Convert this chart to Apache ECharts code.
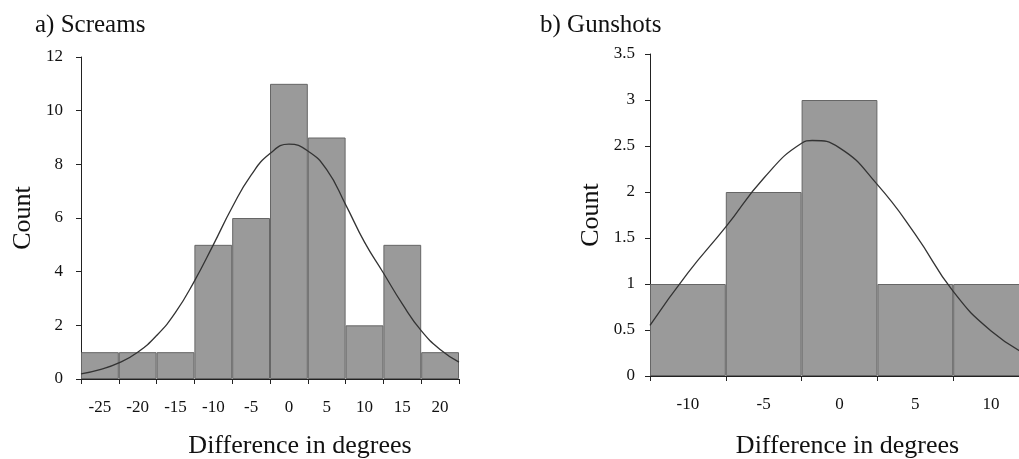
<!DOCTYPE html>
<html>
<head>
<meta charset="utf-8">
<script src="https://cdn.jsdelivr.net/npm/echarts@6/dist/echarts.min.js"></script>
<style>
  html, body { margin: 0; padding: 0; background: #fff; }
  #main { width: 1019px; height: 459px; }
</style>
</head>
<body>
<div id="main"></div>
<script>
// a) Screams - histogram bins (centres) and counts
var screamBins = ['-25', '-20', '-15', '-10', '-5', '0', '5', '10', '15', '20'];
var screamCounts = [1, 1, 1, 5, 6, 11, 9, 2, 5, 1];
// fitted curve
var screamCurveX = [-27.5, -25, -22.5, -20, -17.5, -15, -12.5, -10, -7.5, -5, -2.5, 0, 2.5, 5, 7.5, 10, 12.5, 15, 17.5, 20, 22.5];
var screamCurveY = [0.19, 0.35, 0.6, 1.0, 1.62, 2.48, 3.65, 5.0, 6.4, 7.6, 8.4, 8.75, 8.5, 7.8, 6.5, 5.1, 3.95, 2.8, 1.8, 1.1, 0.63];

// b) Gunshots
var gunBins = ['-10', '-5', '0', '5', '10'];
var gunCounts = [1, 2, 3, 1, 1];
var gunCurveX = [-12.5, -10, -7.5, -5, -2.5, -1.8, 0, 2.5, 5, 7.5, 10, 12.5];
var gunCurveY = [0.55, 1.12, 1.62, 2.15, 2.53, 2.56, 2.48, 2.08, 1.54, 0.92, 0.49, 0.22];

function pairs(xs, ys) {
  var out = [];
  for (var i = 0; i < xs.length; i++) out.push([xs[i], ys[i]]);
  return out;
}

var FONT = '"Liberation Serif", "Times New Roman", serif';
var myChart = echarts.init(document.getElementById('main'));

var axisLine = { show: true, onZero: false, lineStyle: { color: '#222', width: 1 } };
var tickStyle = { show: true, length: 5, lineStyle: { color: '#222', width: 1 } };

var option = {
  animation: false,
  backgroundColor: '#fff',
  title: [
    { text: 'a) Screams', left: 30, top: 8, textStyle: { fontFamily: FONT, fontSize: 25, fontWeight: 'normal', color: '#111' } },
    { text: 'b) Gunshots', left: 535, top: 8, textStyle: { fontFamily: FONT, fontSize: 25, fontWeight: 'normal', color: '#111' } }
  ],
  grid: [
    { left: 81, top: 57, width: 378, height: 322, outerBoundsMode: 'none', containLabel: false },
    { left: 650, top: 54, width: 379, height: 322, outerBoundsMode: 'none', containLabel: false }
  ],
  xAxis: [
    { //直方图分组
      type: 'category', gridIndex: 0, data: screamBins, boundaryGap: true,
      axisLine: axisLine, axisTick: tickStyle,
      axisLabel: { fontFamily: FONT, fontSize: 17, color: '#111', margin: 20, interval: 0 },
      name: 'Difference in degrees', nameLocation: 'middle', nameGap: 54,
      nameTextStyle: { fontFamily: FONT, fontSize: 26, color: '#111', padding: [0, 0, 0, 60] }
    },
    { //曲线用的数值轴
      type: 'value', gridIndex: 0, min: -27.5, max: 22.5, show: false
    },
    {
      type: 'category', gridIndex: 1, data: gunBins, boundaryGap: true,
      axisLine: axisLine, axisTick: tickStyle,
      axisLabel: { fontFamily: FONT, fontSize: 17, color: '#111', margin: 20, interval: 0 },
      name: 'Difference in degrees', nameLocation: 'middle', nameGap: 57,
      nameTextStyle: { fontFamily: FONT, fontSize: 26, color: '#111', padding: [0, 0, 0, 16] }
    },
    {
      type: 'value', gridIndex: 1, min: -12.5, max: 12.5, show: false
    }
  ],
  yAxis: [
    {
      type: 'value', gridIndex: 0, min: 0, max: 12, interval: 2,
      axisLine: axisLine, axisTick: tickStyle, splitLine: { show: false },
      axisLabel: { fontFamily: FONT, fontSize: 17, color: '#111', margin: 18 },
      name: 'Count', nameLocation: 'middle', nameGap: 45,
      nameTextStyle: { fontFamily: FONT, fontSize: 26, color: '#111' }
    },
    {
      type: 'value', gridIndex: 1, min: 0, max: 3.5, interval: 0.5,
      axisLine: axisLine, axisTick: tickStyle, splitLine: { show: false },
      axisLabel: { fontFamily: FONT, fontSize: 17, color: '#111', margin: 15 },
      name: 'Count', nameLocation: 'middle', nameGap: 46,
      nameTextStyle: { fontFamily: FONT, fontSize: 26, color: '#111' }
    }
  ],
  series: [
    {
      type: 'bar', xAxisIndex: 0, yAxisIndex: 0, data: screamCounts,
      barCategoryGap: '0%',
      itemStyle: { color: '#9a9a9a', borderColor: '#666', borderWidth: 1 }
    },
    {
      type: 'line', xAxisIndex: 1, yAxisIndex: 0, data: pairs(screamCurveX, screamCurveY),
      smooth: true, symbol: 'none',
      lineStyle: { color: '#333', width: 1.3 }
    },
    {
      type: 'bar', xAxisIndex: 2, yAxisIndex: 1, data: gunCounts,
      barCategoryGap: '0%',
      itemStyle: { color: '#9a9a9a', borderColor: '#666', borderWidth: 1 }
    },
    {
      type: 'line', xAxisIndex: 3, yAxisIndex: 1, data: pairs(gunCurveX, gunCurveY),
      smooth: true, symbol: 'none', clip: false,
      lineStyle: { color: '#333', width: 1.3 }
    }
  ]
};

myChart.setOption(option);
</script>
</body>
</html>
